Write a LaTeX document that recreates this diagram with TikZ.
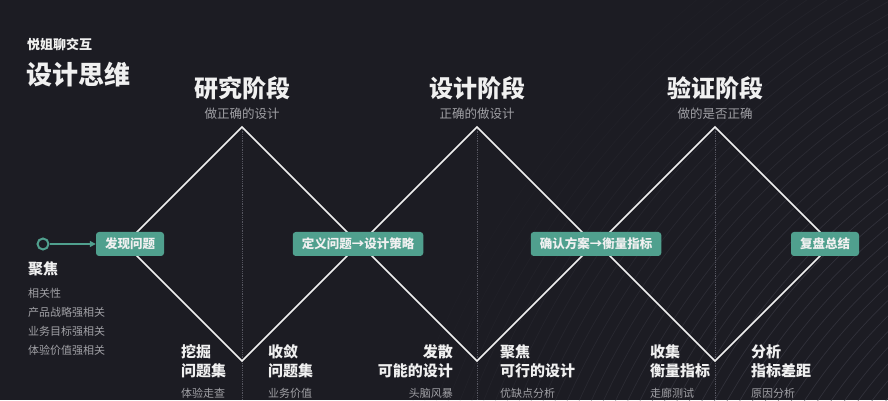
\documentclass[tikz,border=0pt]{standalone}
\usepackage{fontspec}
\setmainfont{Noto Sans CJK SC}
\usepackage{tikz}
\usetikzlibrary{arrows.meta, positioning}
\definecolor{bgdark}{RGB}{28,28,35}
\definecolor{bgline}{RGB}{62,62,72}
\definecolor{myteal}{RGB}{80,160,142}
\definecolor{mywhite}{RGB}{240,240,240}
\definecolor{mygray}{RGB}{160,160,165}
\definecolor{dotgray}{RGB}{85,85,95}
\tikzset{
  diam/.style={draw=mywhite, line width=1.7pt, line join=miter},
  guide/.style={draw=dotgray, densely dotted, line width=0.8pt},
  tagbox/.style={fill=myteal, rectangle, rounded corners=3pt, text=mywhite, font=\fontsize{12.5}{14}\selectfont\bfseries, minimum height=24pt, inner xsep=9pt},
  phase/.style={text=mywhite, font=\fontsize{24}{28}\selectfont\bfseries, inner sep=0pt},
  motto/.style={text=mygray, font=\fontsize{12.5}{14}\selectfont, inner sep=0pt},
  steplabel/.style={text=mywhite, font=\fontsize{15}{19.5}\selectfont\bfseries, inner sep=0pt},
  stepnote/.style={text=mygray, font=\fontsize{11}{13}\selectfont, inner sep=0pt},
  link/.style={draw=myteal, line width=1.2pt, -{Triangle[length=6pt, width=6pt]}}
}

\begin{document}
\begin{tikzpicture}[x=1pt, y=-1pt]
  \fill[bgdark] (0,0) rectangle (888,400);
  % background arcs
  \begin{scope}
    \clip (0,0) rectangle (888,400);
    \foreach \r in {515,526,...,935}
      \pgfmathsetmacro{\op}{max(0.08,min(0.6,(960-\r)/500))}
      \draw[bgline, line width=0.7pt, opacity=\op] (1290,720) circle (\r);
  \end{scope}

  % title
  \node[anchor=west, inner sep=0pt, text=mywhite, font=\fontsize{13}{15}\selectfont\bfseries] (brand) at (27,45) {悦姐聊交互};
  \node[anchor=west, inner sep=0pt, text=mywhite, font=\fontsize{26}{30}\selectfont\bfseries] (title) at (26,75) {设计思维};

  % diamond corners
  \coordinate (l1) at (125,244); \coordinate (t1) at (242,127); \coordinate (r1) at (359,244); \coordinate (b1) at (242,361);
  \coordinate (l2) at (360,244); \coordinate (t2) at (477,127); \coordinate (r2) at (594,244); \coordinate (b2) at (477,361);
  \coordinate (l3) at (598,244); \coordinate (t3) at (715,127); \coordinate (r3) at (832,244); \coordinate (b3) at (715,361);
  \coordinate (e1) at (242,400); \coordinate (e2) at (477,400); \coordinate (e3) at (715,400);

  \draw[guide] (t1) -- (e1);
  \draw[guide] (t2) -- (e2);
  \draw[guide] (t3) -- (e3);

  \draw[diam] (l1) -- (t1) -- (r1) -- (b1) -- cycle;
  \draw[diam] (l2) -- (t2) -- (r2) -- (b2) -- cycle;
  \draw[diam] (l3) -- (t3) -- (r3) -- (b3) -- cycle;

  % phases
  \node[phase] (research) at (242,88) {研究阶段};
  \node[motto, below=8pt of research] {做正确的设计};
  \node[phase] (design) at (477,88) {设计阶段};
  \node[motto, below=8pt of design] {正确的做设计};
  \node[phase] (verify) at (715,88) {验证阶段};
  \node[motto, below=8pt of verify] {做的是否正确};

  % boxes on the axis
  \node[circle, draw=myteal, fill=bgdark, line width=2pt, minimum size=11pt, inner sep=0pt] (start) at (43,244) {};
  \node[tagbox] (find) at (130,244) {发现问题};
  \node[tagbox] (define) at (358,244) {定义问题→设计策略};
  \node[tagbox] (confirm) at (596,244) {确认方案→衡量指标};
  \node[tagbox] (review) at (825,244) {复盘总结};
  \draw[link] (start) -- (find);

  % focus list
  \node[anchor=west, text=mywhite, font=\fontsize{15}{17}\selectfont\bfseries, inner sep=0pt] (focus) at (28,269) {聚焦};
  \node[anchor=north west, align=left, text=mygray, font=\fontsize{11}{18.9}\selectfont, inner sep=0pt] (focuslist) at (28,288)
    {相关性\\产品战略强相关\\业务目标强相关\\体验价值强相关};

  % bottom steps
  \node[steplabel, anchor=north west, align=left] (dig) at (181,344) {挖掘\\问题集};
  \node[stepnote, below=10pt of dig.south west, anchor=north west] {体验走查};
  \node[steplabel, anchor=north west, align=left] (converge) at (268,344) {收敛\\问题集};
  \node[stepnote, below=10pt of converge.south west, anchor=north west] {业务价值};
  \node[steplabel, anchor=north east, align=right] (diverge) at (453,344) {发散\\可能的设计};
  \node[stepnote, below=10pt of diverge.south east, anchor=north east] {头脑风暴};
  \node[steplabel, anchor=north west, align=left] (narrow) at (500,344) {聚焦\\可行的设计};
  \node[stepnote, below=10pt of narrow.south west, anchor=north west] {优缺点分析};
  \node[steplabel, anchor=north west, align=left] (collect) at (650,344) {收集\\衡量指标};
  \node[stepnote, below=10pt of collect.south west, anchor=north west] {走廊测试};
  \node[steplabel, anchor=north west, align=left] (analyse) at (751,344) {分析\\指标差距};
  \node[stepnote, below=10pt of analyse.south west, anchor=north west] {原因分析};
\end{tikzpicture}
\end{document}
